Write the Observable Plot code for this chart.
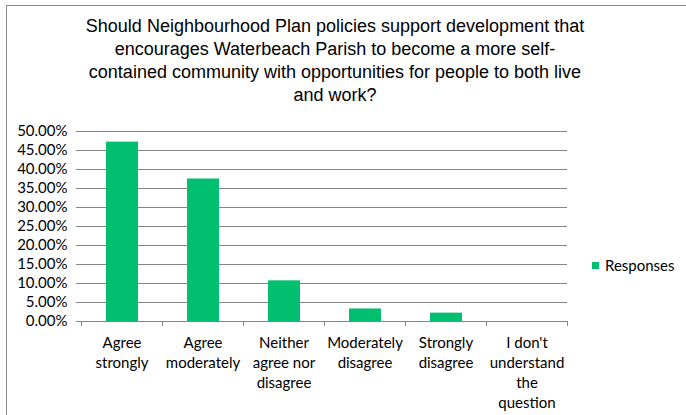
<!DOCTYPE html>
<html><head><meta charset="utf-8">
<script src="https://cdn.jsdelivr.net/npm/d3@7"></script>
<script src="https://cdn.jsdelivr.net/npm/@observablehq/plot@0.6"></script>
<style>
body{margin:0;background:#fff;}
#wrap{position:relative;width:686px;height:415px;overflow:hidden;background:#fff;}
#border{position:absolute;left:6px;top:5px;width:720px;height:500px;border:1px solid #8a8a8a;box-sizing:border-box;}
#title{position:absolute;left:0;width:670px;top:15px;text-align:center;font-family:"Liberation Sans",Arial,sans-serif;font-size:18px;line-height:23px;color:#000;}
#legend{position:absolute;left:592px;top:256px;font-family:Lato,sans-serif;font-size:15px;color:#000;display:flex;align-items:center;}
#legend span.sw{display:inline-block;width:7px;height:7px;background:#00BF6F;margin-right:6px;}
#chart{position:absolute;left:0;top:0;}
</style></head>
<body>
<div id="wrap">
  <div id="chart"></div>
  <div id="border"></div>
  <div id="title"></div>
  <div id="legend"></div>
</div>
<script>
const titleLines = [
  "Should Neighbourhood Plan policies support development that",
  "encourages Waterbeach Parish to become a more self-",
  "contained community with opportunities for people to both live",
  "and work?"
];
const categories = ["Agree strongly","Agree moderately","Neither agree nor disagree","Moderately disagree","Strongly disagree","I don't understand the question"];
const xLabels = ["Agree\nstrongly","Agree\nmoderately","Neither\nagree nor\ndisagree","Moderately\ndisagree","Strongly\ndisagree","I don't\nunderstand\nthe\nquestion"];
const responses = [0.472, 0.375, 0.107, 0.033, 0.022, 0];
const yTicks = [0,0.05,0.10,0.15,0.20,0.25,0.30,0.35,0.40,0.45,0.50];
const seriesName = "Responses";

const data = categories.map((c,i)=>({category:c, label:xLabels[i], value:responses[i], i}));
const bounds = d3.range(categories.length + 1);

const chart = Plot.plot({
  width: 686, height: 415,
  marginLeft: 81, marginRight: 119, marginTop: 131, marginBottom: 94,
  style: {fontFamily: "Lato, sans-serif", fontSize: "15px", color: "#000", background: "transparent"},
  x: {type: "linear", domain: [0, categories.length], axis: null},
  y: {domain: [0, 0.5], axis: null},
  marks: [
    Plot.gridY(yTicks, {stroke: "#868686", strokeOpacity: 1}),
    Plot.axisY(yTicks, {tickFormat: d => (d*100).toFixed(2) + "%", tickSize: 5, tickPadding: 9, stroke: "#868686", fill: "#000", label: null}),
    Plot.rectY(data, {x1: "i", x2: d => d.i + 1, y: "value", fill: "#00BF6F", insetLeft: 25, insetRight: 24}),
    Plot.ruleY([0], {stroke: "#868686"}),
    Plot.axisX(bounds, {tickFormat: () => "", tickSize: 5, stroke: "#868686", label: null}),
    Plot.text(data, {x: d => d.i + 0.5, y: () => 0, text: "label", lineAnchor: "top", dy: 12, lineHeight: 1.34, fill: "#000", fontSize: 15})
  ]
});
document.getElementById("chart").appendChild(chart);
document.getElementById("title").innerHTML = titleLines.join("<br>");
document.getElementById("legend").innerHTML = '<span class="sw"></span>' + seriesName;
</script>
</body></html>
